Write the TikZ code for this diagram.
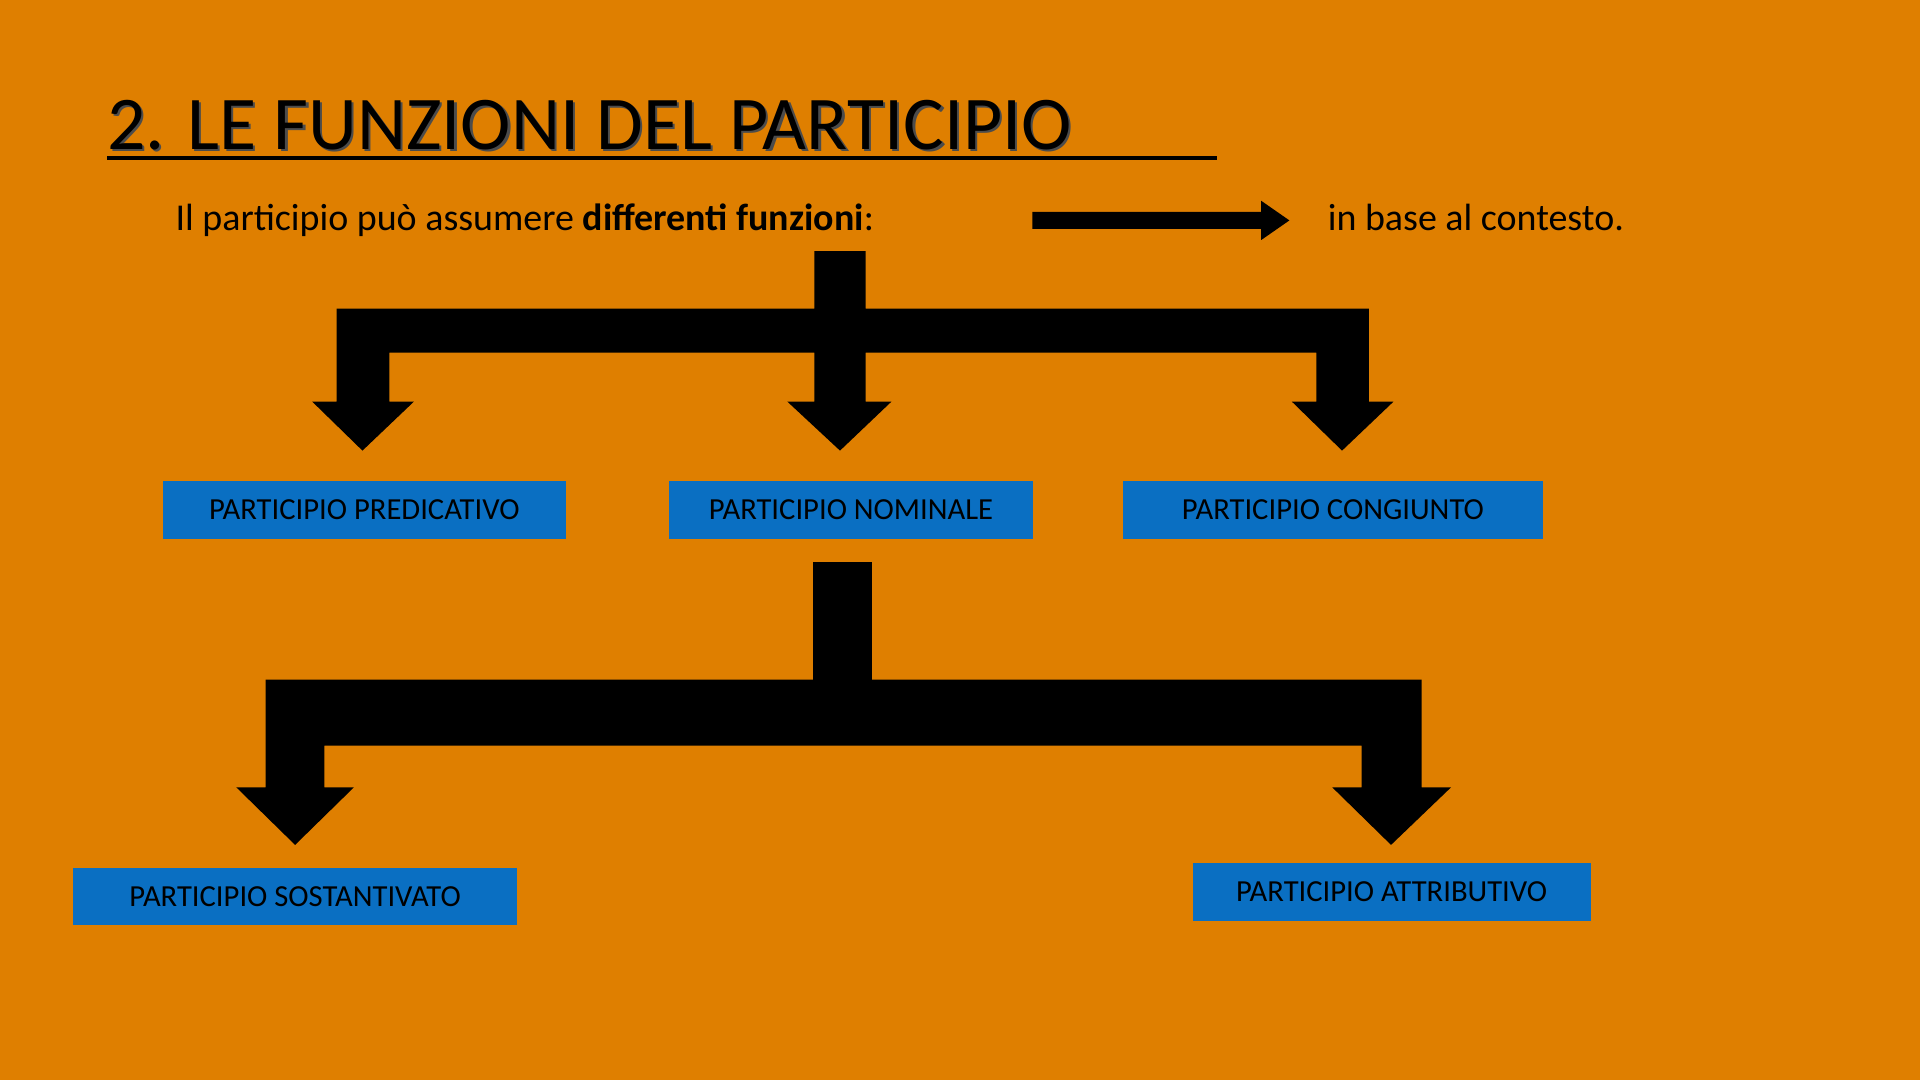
\documentclass[tikz,border=0pt]{standalone}
\usepackage{fontspec}
\setmainfont{Carlito}
\definecolor{bgor}{HTML}{DF7F00}
\definecolor{boxb}{HTML}{0A6FC2}
\begin{document}
\begin{tikzpicture}[x=0.5pt,y=-0.5pt,
  box/.style={fill=boxb,inner sep=0pt,minimum height=23.5pt,font=\fontsize{12.5}{14}\selectfont,text=black}]
\fill[bgor] (0,0) rectangle (1568,882);
\useasboundingbox (0,0) rectangle (1568,882);
% title
\node[anchor=base west,inner sep=0pt,text=black!70,font=\fontsize{31}{34}\selectfont] at (89,124) {2. LE FUNZIONI DEL PARTICIPIO};
\node[anchor=base west,inner sep=0pt,font=\fontsize{31}{34}\selectfont] (title) at (87,122) {2. LE FUNZIONI DEL PARTICIPIO};
\fill (87,127) rectangle (994,131);
\node[anchor=base west,inner sep=0pt,font=\fontsize{15.5}{18}\selectfont] (intro) at (143,188) {Il participio può assumere \textbf{differenti funzioni}:};
\node[anchor=base west,inner sep=0pt,font=\fontsize{15.5}{18}\selectfont] (ctx) at (1084,188) {in base al contesto.};
\fill (843,173) -- (1030,173) -- (1030,164) -- (1053,180) -- (1030,196) -- (1030,187) -- (843,187) -- cycle;
% boxes
\node[box,minimum width=164.5pt] (pred) at (297.5,416.5) {PARTICIPIO PREDICATIVO};
\node[box,minimum width=149pt] (nom) at (695,416.5) {PARTICIPIO NOMINALE};
\node[box,minimum width=171.5pt] (cong) at (1088.5,416.5) {PARTICIPIO CONGIUNTO};
\node[box,minimum width=181pt] (sost) at (241,732) {PARTICIPIO SOSTANTIVATO};
\node[box,minimum width=162.5pt] (attr) at (1136.5,728.5) {PARTICIPIO ATTRIBUTIVO};
% upper fork
\fill (665,205) -- (707,205) -- (707,252) -- (1118,252) -- (1118,328) -- (1138,328) -- (1096,368) -- (1055,328) -- (1075,328) -- (1075,288)
 -- (707,288) -- (707,328) -- (728,328) -- (686,368) -- (643,328) -- (665,328) -- (665,288)
 -- (318,288) -- (318,328) -- (338,328) -- (296,368) -- (255,328) -- (275,328) -- (275,252) -- (665,252) -- cycle;
% lower fork
\fill (664,459) -- (712,459) -- (712,555) -- (1161,555) -- (1161,643) -- (1185,643) -- (1136,690) -- (1088,643) -- (1112,643) -- (1112,609)
 -- (265,609) -- (265,643) -- (289,643) -- (241,690) -- (193,643) -- (217,643) -- (217,555) -- (664,555) -- cycle;
\end{tikzpicture}
\end{document}
